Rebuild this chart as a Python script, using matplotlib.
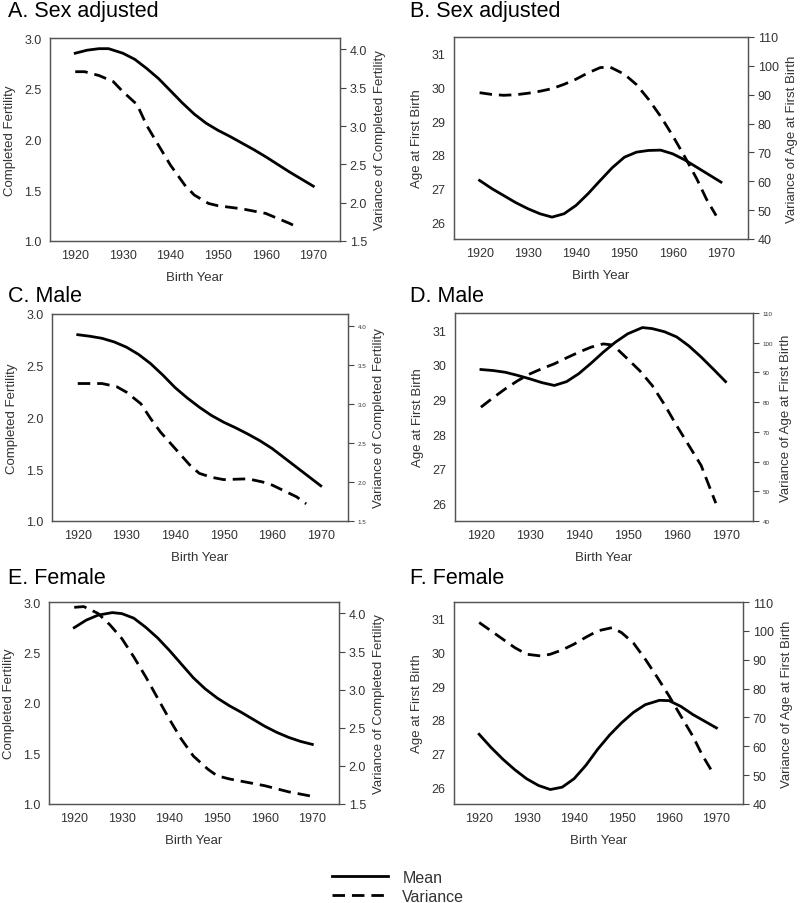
import matplotlib
matplotlib.use("Agg")
import matplotlib.pyplot as plt

plt.rcParams['font.family'] = ['Liberation Sans', 'DejaVu Sans']

# ---- data ----
# A. Sex adjusted - completed fertility
a_mean_x = [1920, 1922.5, 1925, 1927, 1930, 1932.5, 1935, 1937.5, 1940, 1942.5, 1945, 1947.5,
            1950, 1952.5, 1955, 1957.5, 1960, 1962.5, 1965, 1967.5, 1970]
a_mean_y = [2.85, 2.88, 2.895, 2.895, 2.85, 2.79, 2.70, 2.60, 2.48, 2.36, 2.25, 2.16,
            2.09, 2.03, 1.965, 1.90, 1.83, 1.755, 1.68, 1.61, 1.54]
a_var_x = [1920, 1922, 1925, 1928, 1930, 1933, 1935, 1937, 1940, 1943, 1945, 1948, 1950,
           1955, 1960, 1965, 1967]
a_var_y = [3.71, 3.71, 3.66, 3.58, 3.45, 3.28, 3.01, 2.80, 2.49, 2.23, 2.10, 1.99, 1.96,
           1.92, 1.86, 1.73, 1.67]

# B. Sex adjusted - age at first birth
b_mean_x = [1920, 1922.5, 1925, 1927.5, 1930, 1932.5, 1935, 1937.5, 1940, 1942.5, 1945,
            1947.5, 1950, 1952.5, 1955, 1957.5, 1960, 1962.5, 1965, 1967.5, 1970]
b_mean_y = [27.24, 27.0, 26.79, 26.58, 26.40, 26.25, 26.15, 26.25, 26.50, 26.85, 27.24,
            27.62, 27.93, 28.08, 28.13, 28.14, 28.03, 27.85, 27.63, 27.41, 27.19]
b_var_x = [1920, 1922.5, 1925, 1927.5, 1930, 1932.5, 1935, 1937.5, 1940, 1942.5, 1945, 1947,
           1950, 1952.5, 1955, 1957.5, 1960, 1962.5, 1965, 1967, 1969]
b_var_y = [90.7, 90.1, 89.8, 90.0, 90.5, 91.2, 92.1, 93.6, 95.4, 97.6, 99.4, 99.6,
           97.1, 93.5, 88.4, 82.5, 75.8, 68.5, 60.8, 53.8, 48.1]

# C. Male - completed fertility
c_mean_x = [1920, 1922.5, 1925, 1927.5, 1930, 1932.5, 1935, 1937.5, 1940, 1942.5, 1945,
            1947.5, 1950, 1952.5, 1955, 1957.5, 1960, 1962.5, 1965, 1967.5, 1970]
c_mean_y = [2.80, 2.785, 2.765, 2.73, 2.68, 2.61, 2.52, 2.41, 2.29, 2.19, 2.10,
            2.02, 1.955, 1.90, 1.84, 1.775, 1.70, 1.61, 1.52, 1.43, 1.34]
c_var_x = [1920, 1925, 1928, 1930, 1933, 1935, 1937, 1940, 1943, 1945, 1947.5, 1950, 1952.5,
           1955, 1958, 1960, 1965, 1967]
c_var_y = [3.26, 3.26, 3.22, 3.15, 3.00, 2.81, 2.64, 2.43, 2.22, 2.11, 2.06, 2.03, 2.035,
           2.04, 2.00, 1.96, 1.81, 1.72]

# D. Male - age at first birth
d_mean_x = [1920, 1922.5, 1925, 1927.5, 1930, 1932.5, 1935, 1937.5, 1940, 1942.5, 1945,
            1947.5, 1950, 1953, 1955, 1957.5, 1960, 1962.5, 1965, 1967.5, 1970]
d_mean_y = [29.87, 29.84, 29.79, 29.70, 29.60, 29.49, 29.41, 29.52, 29.75, 30.05, 30.37,
            30.66, 30.90, 31.08, 31.05, 30.96, 30.81, 30.55, 30.23, 29.88, 29.52]
d_var_x = [1920, 1922.5, 1925, 1927.5, 1930, 1932.5, 1935, 1937.5, 1940, 1942.5, 1945, 1947,
           1950, 1952.5, 1955, 1957.5, 1960, 1962.5, 1965, 1968]
d_var_y = [78.3, 81.5, 84.5, 87.2, 89.5, 91.3, 92.9, 94.9, 96.8, 98.5, 99.6, 99.2,
           94.5, 90.5, 85.6, 79.2, 72.1, 65.4, 58.7, 46.0]

# E. Female - completed fertility
e_mean_x = [1920, 1922.5, 1925, 1928, 1930, 1932.5, 1935, 1937.5, 1940, 1942.5, 1945,
            1947.5, 1950, 1952.5, 1955, 1957.5, 1960, 1962.5, 1965, 1967.5, 1970]
e_mean_y = [2.746, 2.82, 2.87, 2.895, 2.885, 2.84, 2.75, 2.645, 2.52, 2.385, 2.25,
            2.14, 2.05, 1.975, 1.91, 1.84, 1.77, 1.71, 1.66, 1.62, 1.59]
e_var_x = [1920, 1922, 1925, 1927.5, 1930, 1932.5, 1935, 1937.5, 1940, 1942.5, 1945, 1948,
           1950, 1952.5, 1955, 1957.5, 1960, 1962.5, 1965, 1967.5, 1970]
e_var_y = [4.08, 4.09, 4.00, 3.85, 3.67, 3.43, 3.17, 2.89, 2.61, 2.35, 2.13, 1.96,
           1.87, 1.83, 1.80, 1.77, 1.74, 1.70, 1.66, 1.63, 1.60]

# F. Female - age at first birth
f_mean_x = [1920, 1922.5, 1925, 1927.5, 1930, 1932.5, 1935, 1937.5, 1940, 1942.5, 1945,
            1947.5, 1950, 1952.5, 1955, 1958, 1960, 1962.5, 1965, 1967.5, 1970]
f_mean_y = [27.57, 27.18, 26.83, 26.52, 26.25, 26.05, 25.93, 26.0, 26.25, 26.65, 27.13,
            27.55, 27.91, 28.22, 28.45, 28.58, 28.57, 28.4, 28.16, 27.96, 27.76]
f_var_x = [1920, 1922.5, 1925, 1927.5, 1930, 1933, 1935, 1937.5, 1940, 1942.5, 1945, 1948,
           1950, 1952.5, 1955, 1957.5, 1960, 1962.5, 1965, 1967, 1969]
f_var_y = [102.9, 100.0, 97.1, 94.2, 91.9, 91.3, 91.9, 93.4, 95.4, 97.8, 100.0, 101.1,
           99.4, 95.8, 90.2, 84.0, 77.5, 70.5, 63.6, 57.0, 51.5]

fert_ticks = [1.0, 1.5, 2.0, 2.5, 3.0]
fert_var_ticks = [1.5, 2.0, 2.5, 3.0, 3.5, 4.0]
age_ticks = [26, 27, 28, 29, 30, 31]
age_var_ticks = [40, 50, 60, 70, 80, 90, 100, 110]
year_ticks = [1920, 1930, 1940, 1950, 1960, 1970]

W, H = 800, 904
fig = plt.figure(figsize=(W / 100, H / 100), dpi=100)

TXT = '#333333'
DASH = (0, (4.5, 2.5))


def make_ax(box):
    x0, y0, x1, y1 = box
    return fig.add_axes([x0 / W, 1 - y1 / H, (x1 - x0) / W, (y1 - y0) / H])


def panel(box, title, tx, ty, mx, my, vx, vy, kind, small_right=False):
    ax = make_ax(box)
    ax2 = ax.twinx()
    l1, = ax.plot(mx, my, color='black', lw=2.0, solid_joinstyle='round')
    l2, = ax2.plot(vx, vy, color='black', lw=2.0, linestyle=DASH, dash_joinstyle='round')
    ax.set_xlim(1914.7, 1975.6)
    ax.set_xticks(year_ticks)
    if kind == 'fert':
        ax.set_ylim(1.0, 3.0)
        ax.set_yticks(fert_ticks)
        ax.set_yticklabels(['%.1f' % t for t in fert_ticks])
        ax2.set_ylim(1.5, 4.15)
        ax2.set_yticks(fert_var_ticks)
        ax2.set_yticklabels(['%.1f' % t for t in fert_var_ticks])
        ax.set_ylabel('Completed Fertility', fontsize=9.5, color=TXT, labelpad=6)
        ax2.set_ylabel('Variance of Completed Fertility', fontsize=9.5, color=TXT, labelpad=5)
    else:
        ax.set_ylim(25.5, 31.5)
        ax.set_yticks(age_ticks)
        ax2.set_ylim(40, 110)
        ax2.set_yticks(age_var_ticks)
        ax.set_ylabel('Age at First Birth', fontsize=9.5, color=TXT, labelpad=6)
        ax2.set_ylabel('Variance of Age at First Birth', fontsize=9.5, color=TXT, labelpad=5)
    ax.set_xlabel('Birth Year', fontsize=9.5, color=TXT, labelpad=7)
    ax.tick_params(axis='both', length=0, labelsize=9, labelcolor=TXT, pad=6)
    ax2.tick_params(axis='y', length=4, width=0.8, color='#444444',
                    labelsize=4.5 if small_right else 9, labelcolor=TXT, pad=3)
    for a in (ax, ax2):
        for s in a.spines.values():
            s.set_color('#555555')
            s.set_linewidth(0.9)
    fig.text(tx / W, 1 - ty / H, title, fontsize=15.5, color='black', va='center', ha='left')
    return l1, l2


panel((50, 39, 340, 242), 'A. Sex adjusted', 8, 12, a_mean_x, a_mean_y, a_var_x, a_var_y, 'fert')
panel((454, 38, 748, 240), 'B. Sex adjusted', 410, 12, b_mean_x, b_mean_y, b_var_x, b_var_y, 'age')
panel((52, 315, 348, 522), 'C. Male', 8, 296, c_mean_x, c_mean_y, c_var_x, c_var_y, 'fert', small_right=True)
panel((455, 314, 753, 522), 'D. Male', 410, 296, d_mean_x, d_mean_y, d_var_x, d_var_y, 'age', small_right=True)
panel((49, 603, 339, 805), 'E. Female', 8, 578, e_mean_x, e_mean_y, e_var_x, e_var_y, 'fert')
l1, l2 = panel((454, 603, 743, 805), 'F. Female', 410, 578, f_mean_x, f_mean_y, f_var_x, f_var_y, 'age')

fig.legend([l1, l2], ['Mean', 'Variance'], loc='upper left',
           bbox_to_anchor=(332 / W, 1 - 871 / H), frameon=False, fontsize=11.5,
           handlelength=3.5, handletextpad=0.9, labelspacing=0.25,
           borderpad=0, borderaxespad=0, labelcolor=TXT)

fig.savefig('out.png', dpi=100)
